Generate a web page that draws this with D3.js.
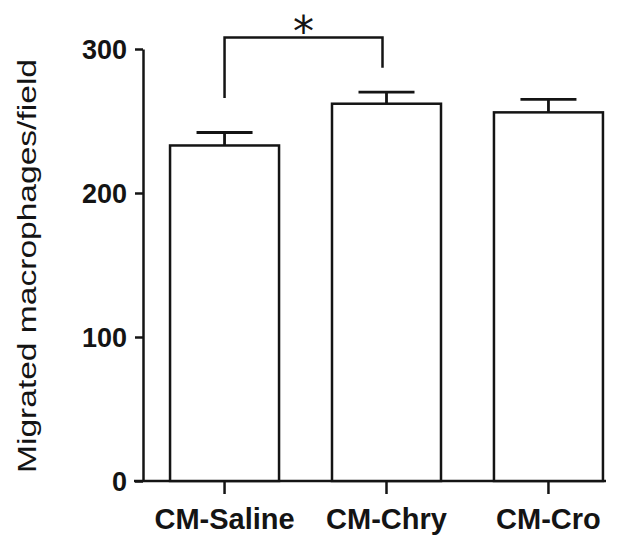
<!DOCTYPE html>
<html>
<head>
<meta charset="utf-8">
<script src="https://cdn.jsdelivr.net/npm/d3@7"></script>
<style>
  body { margin: 0; background: #fff; }
  svg { display: block; }
</style>
</head>
<body>
<svg id="chart"></svg>
<script>
// Migrated macrophages per field
const groups   = ['CM-Saline', 'CM-Chry', 'CM-Cro'];
const means    = [233, 262, 256];
const errs     = [9, 8, 9];
const yTicks   = [0, 100, 200, 300];
// significance bracket: from group, to group, top, leg ends
const sigPairs = [{ a: 'CM-Saline', b: 'CM-Chry', top: 308, endA: 266, endB: 287, mark: '*' }];

const W = 618, H = 536;
const ink = '#141414';
const font = 'Liberation Sans, Arial, Helvetica, sans-serif';

const svg = d3.select('#chart').attr('width', W).attr('height', H);

const y = d3.scaleLinear().domain([0, 300]).range([481, 49]);
const x = d3.scaleBand().domain(groups)
  .range([143, 630])
  .paddingInner(0.327)
  .paddingOuter(0.167);

// y axis
const yAxis = svg.append('g')
  .attr('transform', 'translate(143,0)')
  .call(d3.axisLeft(y).tickValues(yTicks).tickSize(8).tickPadding(8).tickSizeOuter(0));
yAxis.select('.domain').attr('stroke', ink).attr('stroke-width', 2.5);
yAxis.selectAll('.tick line').attr('stroke', ink).attr('stroke-width', 2.5);
yAxis.selectAll('.tick text')
  .attr('font-family', font).attr('font-weight', 'bold')
  .attr('font-size', '27px').attr('fill', ink).attr('dy', '0.36em');

// x axis
const xAxis = svg.append('g')
  .attr('transform', `translate(0,${y(0)})`)
  .call(d3.axisBottom(x).tickSize(13).tickPadding(14).tickSizeOuter(0));
xAxis.select('.domain').remove();
xAxis.selectAll('.tick line').attr('stroke', ink).attr('stroke-width', 2.5);
xAxis.selectAll('.tick text')
  .attr('font-family', font).attr('font-weight', 'bold')
  .attr('font-size', '29px').attr('fill', ink);
svg.append('line')
  .attr('x1', 134).attr('x2', 606)
  .attr('y1', y(0)).attr('y2', y(0))
  .attr('stroke', ink).attr('stroke-width', 2.5);

// error bars (drawn behind bars)
const eb = svg.append('g').attr('stroke', ink).attr('stroke-width', 2.8);
groups.forEach((g, i) => {
  const cx = x(g) + x.bandwidth() / 2;
  eb.append('line').attr('x1', cx).attr('x2', cx)
    .attr('y1', y(means[i])).attr('y2', y(means[i] + errs[i]));
  eb.append('line').attr('x1', cx - 28).attr('x2', cx + 28)
    .attr('y1', y(means[i] + errs[i])).attr('y2', y(means[i] + errs[i]));
});

// bars
svg.append('g').selectAll('rect')
  .data(groups)
  .join('rect')
  .attr('x', d => x(d))
  .attr('y', (d, i) => y(means[i]))
  .attr('width', x.bandwidth())
  .attr('height', (d, i) => y(0) - y(means[i]))
  .attr('fill', '#fff')
  .attr('stroke', ink)
  .attr('stroke-width', 2.5);

// significance bracket
sigPairs.forEach(s => {
  const xa = x(s.a) + x.bandwidth() / 2;
  const xb = x(s.b) + x.bandwidth() / 2 - 4;
  svg.append('path')
    .attr('d', `M${xa},${y(s.endA)} V${y(s.top)} H${xb} V${y(s.endB)}`)
    .attr('fill', 'none').attr('stroke', ink).attr('stroke-width', 2.5);
  svg.append('text')
    .attr('x', (xa + xb) / 2).attr('y', y(s.top) + 9)
    .attr('text-anchor', 'middle')
    .attr('font-family', 'DejaVu Sans, sans-serif').attr('font-size', '42px').attr('fill', ink)
    .text(s.mark);
});

// y label
svg.append('text')
  .attr('transform', `translate(36,266) rotate(-90)`)
  .attr('text-anchor', 'middle')
  .attr('font-family', font).attr('font-size', '26px').attr('fill', ink)
  .attr('textLength', 414).attr('lengthAdjust', 'spacingAndGlyphs')
  .text('Migrated macrophages/field');
</script>
</body>
</html>
